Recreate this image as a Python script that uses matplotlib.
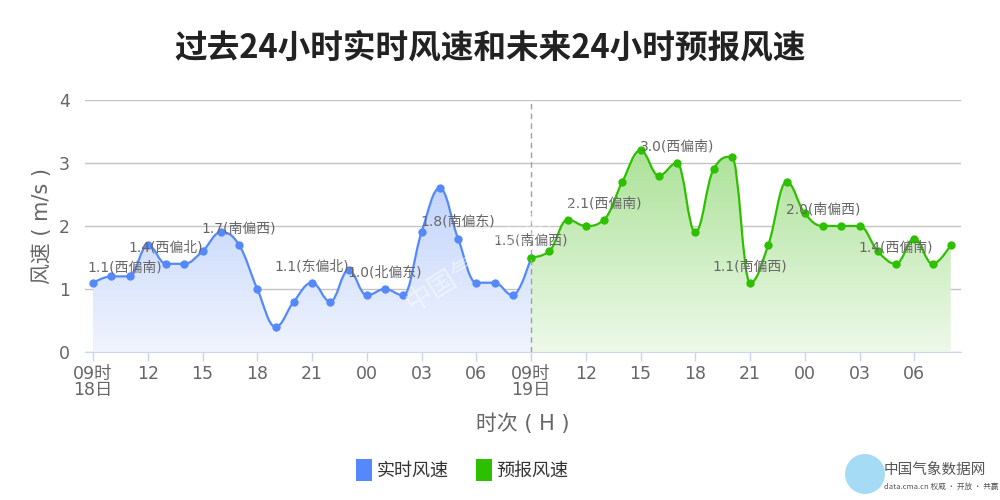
"""
过去24小时实时风速 + 未来24小时预报风速（仿 Highcharts 样式）
"""
import numpy as np
import matplotlib
matplotlib.use('Agg')
import matplotlib.pyplot as plt
from matplotlib.path import Path
from matplotlib.patches import PathPatch, Patch, Ellipse

plt.rcParams['font.family'] = ['DejaVu Sans', 'Noto Sans CJK SC']
plt.rcParams['axes.unicode_minus'] = False

CJK = ['Noto Sans CJK SC', 'DejaVu Sans']

# ---- 数据 ----
# 实时风速：18日09时 ~ 19日09时，逐小时
obs_speed = [1.1, 1.2, 1.2, 1.7, 1.4, 1.4, 1.6, 1.9, 1.7, 1.0, 0.4, 0.8, 1.1,
             0.8, 1.3, 0.9, 1.0, 0.9, 1.9, 2.6, 1.8, 1.1, 1.1, 0.9, 1.5]
# 预报风速：19日09时 ~ 20日08时，逐小时
fc_speed = [1.5, 1.6, 2.1, 2.0, 2.1, 2.7, 3.2, 2.8, 3.0, 1.9, 2.9, 3.1,
            1.1, 1.7, 2.7, 2.2, 2.0, 2.0, 2.0, 1.6, 1.4, 1.8, 1.4, 1.7]
# 每4小时标注一次风向
obs_dir = {0: '西偏南', 4: '西偏北', 8: '南偏西', 12: '东偏北',
           16: '北偏东', 20: '南偏东'}
fc_dir = {0: '南偏西', 4: '西偏南', 8: '西偏南', 12: '南偏西',
          16: '南偏西', 20: '西偏南'}

tick_hours = list(range(0, 48, 3))
tick_labels = ['09时\n18日', '12', '15', '18', '21', '00', '03', '06',
               '09时\n19日', '12', '15', '18', '21', '00', '03', '06']

BLUE = '#5589fb'
GREEN = '#2ec000'
TXT = '#666666'


def spline_path(xs, ys, smoothing=1.5):
    """Highcharts 风格的样条曲线（三次贝塞尔）"""
    n = len(xs)
    lc = [(x, y) for x, y in zip(xs, ys)]
    rc = [(x, y) for x, y in zip(xs, ys)]
    den = smoothing + 1
    for i in range(1, n - 1):
        px, py = xs[i], ys[i]
        lx, ly = xs[i - 1], ys[i - 1]
        nx, ny = xs[i + 1], ys[i + 1]
        lcx = (smoothing * px + lx) / den
        lcy = (smoothing * py + ly) / den
        rcx = (smoothing * px + nx) / den
        rcy = (smoothing * py + ny) / den
        corr = (rcy - lcy) * (rcx - px) / (rcx - lcx) + py - rcy
        lcy += corr
        rcy += corr
        if lcy > ly and lcy > py:
            lcy = max(ly, py); rcy = 2 * py - lcy
        elif lcy < ly and lcy < py:
            lcy = min(ly, py); rcy = 2 * py - lcy
        if rcy > ny and rcy > py:
            rcy = max(ny, py); lcy = 2 * py - rcy
        elif rcy < ny and rcy < py:
            rcy = min(ny, py); lcy = 2 * py - rcy
        lc[i] = (lcx, lcy)
        rc[i] = (rcx, rcy)
    verts = [(xs[0], ys[0])]
    codes = [Path.MOVETO]
    for i in range(1, n):
        verts += [rc[i - 1], lc[i], (xs[i], ys[i])]
        codes += [Path.CURVE4] * 3
    return verts, codes


def draw_series(ax, xs, ys, color, top_rgb, bot_rgb, z):
    verts, codes = spline_path(xs, ys)
    ax.add_patch(PathPatch(Path(verts, codes), fill=False, edgecolor=color,
                           lw=1.6, zorder=z + 1, capstyle='round'))
    # 渐变填充
    area = verts + [(xs[-1], 0), (xs[0], 0), (xs[0], 0)]
    acodes = codes + [Path.LINETO, Path.LINETO, Path.CLOSEPOLY]
    clip = PathPatch(Path(area, acodes), transform=ax.transData,
                     facecolor='none', edgecolor='none')
    t = np.linspace(0, 1, 256)[:, None, None]
    grad = np.array(bot_rgb)[None, None, :] * (1 - t) + np.array(top_rgb)[None, None, :] * t
    im = ax.imshow(grad / 255.0, extent=[xs[0], xs[-1], 0, max(ys)],
                   origin='lower', aspect='auto', zorder=z, interpolation='bilinear')
    im.set_clip_path(clip)
    ax.plot(xs, ys, 'o', color=color, ms=6, mec='none', zorder=z + 2)


fig = plt.figure(figsize=(10, 5), dpi=100)
ax = fig.add_axes([0.085, 0.296, 0.876, 0.504])

obs_x = np.arange(len(obs_speed))
fc_x = np.arange(len(fc_speed)) + 24

draw_series(ax, obs_x, obs_speed, BLUE, (195, 213, 251), (240, 244, 254), 2)
draw_series(ax, fc_x, fc_speed, GREEN, (172, 226, 152), (238, 249, 234), 5)

# 数据标签
for i, d in obs_dir.items():
    v = obs_speed[i]
    if i == 0:
        ax.annotate(f'{v:.1f}({d})', (obs_x[i], v), xytext=(-4, 11),
                    textcoords='offset points', ha='left', va='center',
                    fontsize=10, color=TXT, zorder=10)
    else:
        ax.annotate(f'{v:.1f}({d})', (obs_x[i], v), xytext=(0, 12),
                    textcoords='offset points', ha='center', va='center',
                    fontsize=10, color=TXT, zorder=10)
for i, d in fc_dir.items():
    v = fc_speed[i]
    ax.annotate(f'{v:.1f}({d})', (fc_x[i], v), xytext=(0, 12),
                textcoords='offset points', ha='center', va='center',
                fontsize=10, color=TXT, zorder=10)

ax.axvline(24, color='#a0a0a0', lw=1, dashes=(4, 3), zorder=8)

ax.set_xlim(-0.44, 47.56)
ax.set_ylim(0, 4)
ax.set_yticks([0, 1, 2, 3, 4])
ax.set_xticks(tick_hours)
ax.set_xticklabels(tick_labels, linespacing=0.85)
ax.tick_params(axis='x', length=6.5, width=1, color='#ccd6eb', pad=3,
               labelsize=12.5, labelcolor=TXT)
ax.tick_params(axis='y', length=0, pad=11, labelsize=12.5, labelcolor=TXT)
ax.grid(axis='y', color='#c4c4c4', lw=1, zorder=0)
ax.set_axisbelow(True)
for s in ['top', 'right', 'left']:
    ax.spines[s].set_visible(False)
ax.spines['bottom'].set_color('#ccd6eb')
ax.spines['bottom'].set_zorder(9)

fig.text(0.49, 0.904, '过去24小时实时风速和未来24小时预报风速', ha='center',
         va='center', fontsize=23.5, fontweight='bold', color='#222222', family=CJK)
fig.text(0.042, 0.548, '风速 ( m/s )', rotation=90, ha='center', va='center',
         fontsize=15, color=TXT)
fig.text(0.523, 0.152, '时次 ( H )', ha='center', va='center',
         fontsize=15, color=TXT)

handles = [Patch(facecolor=BLUE, edgecolor='none', label='实时风速'),
           Patch(facecolor=GREEN, edgecolor='none', label='预报风速')]
leg = fig.legend(handles=handles, loc='center', bbox_to_anchor=(0.462, 0.06),
                 ncol=2, frameon=False, handlelength=0.9, handleheight=1.5,
                 handletextpad=0.25, columnspacing=1.5,
                 prop={'family': CJK, 'size': 13})
for t in leg.get_texts():
    t.set_color('#333333')

# 水印
fig.text(0.49, 0.49, '中国气象数据网', rotation=32, ha='center', va='center',
         fontsize=20, color='white', alpha=0.45, family=CJK, zorder=20)
fig.patches.append(Ellipse((0.865, 0.052), 0.04, 0.08, transform=fig.transFigure,
                           facecolor='#8fd3f2', edgecolor='none', alpha=0.8))
fig.text(0.884, 0.06, '中国气象数据网', ha='left', va='center',
         fontsize=10.5, color='#555555', family=CJK)
fig.text(0.884, 0.026, 'data.cma.cn 权威 · 开放 · 共赢', ha='left',
         va='center', fontsize=5.5, color='#555555', family=CJK)

fig.savefig('out.png', dpi=100, facecolor='white')
